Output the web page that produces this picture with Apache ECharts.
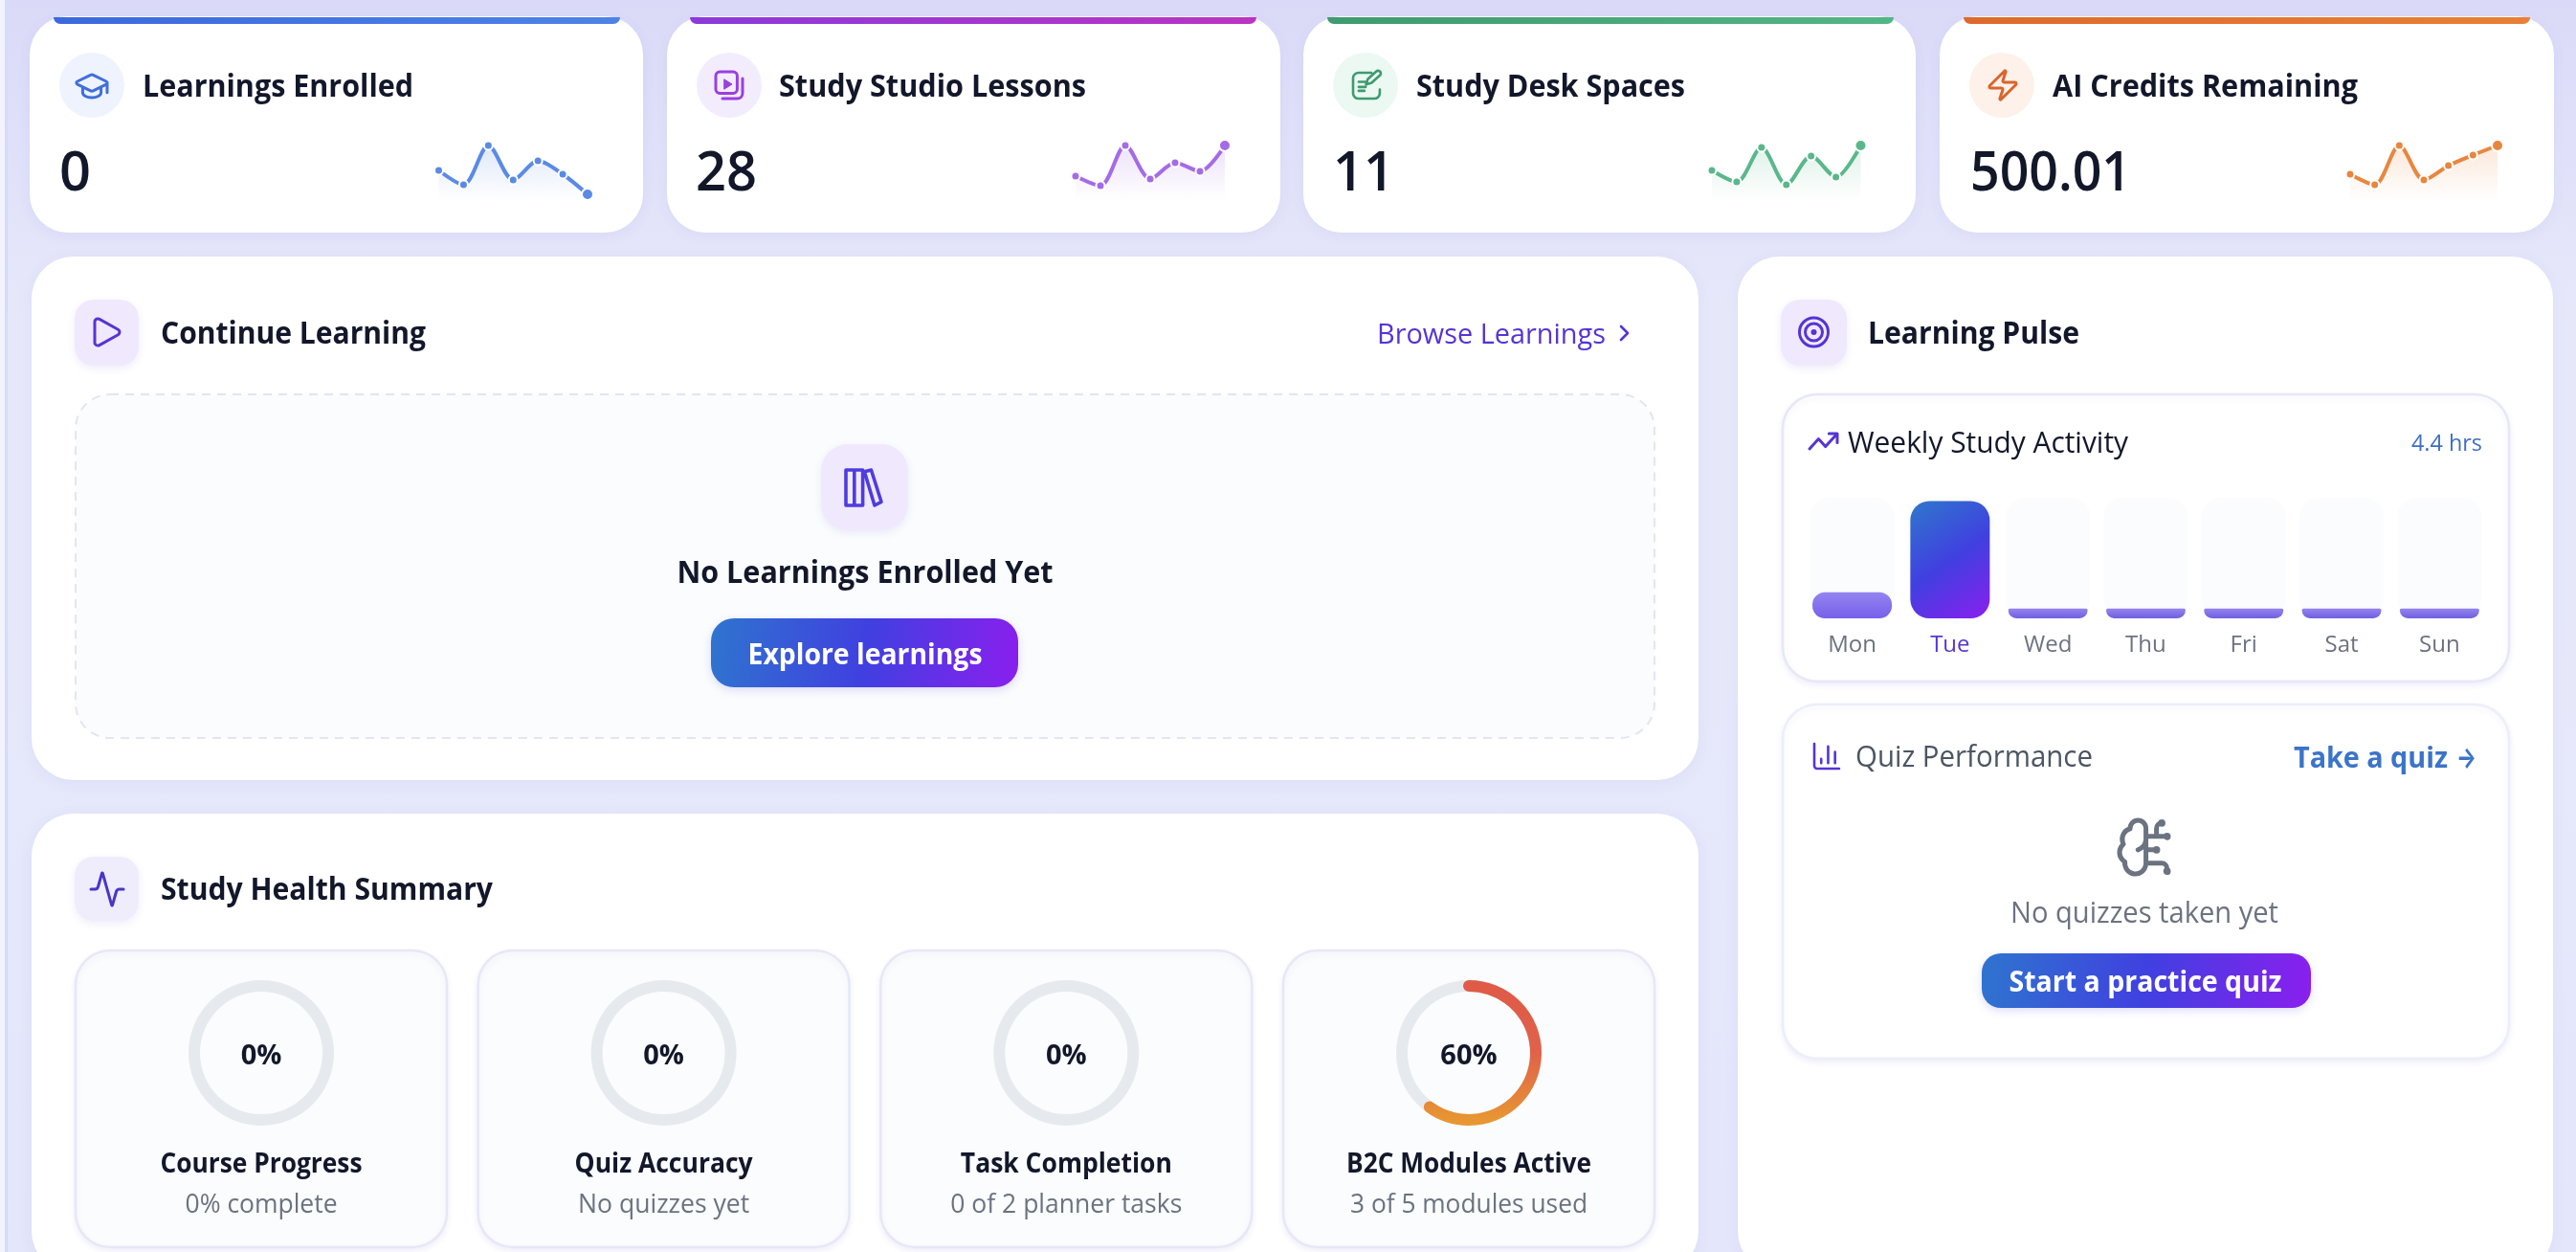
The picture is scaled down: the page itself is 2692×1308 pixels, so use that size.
<!DOCTYPE html>
<html><head><meta charset="utf-8">
<style>html,body{margin:0;padding:0;background:#e6e8fa;overflow:hidden}#c{width:2692px;height:1308px}</style>
<script src="https://cdn.jsdelivr.net/npm/echarts@6/dist/echarts.min.js"></script>
</head><body><div id="c"></div>
<script>
// ---- data ----
const statTitles = ['Learnings Enrolled','Study Studio Lessons','Study Desk Spaces','AI Credits Remaining'];
const statValues = ['0','28','11','500.01'];
const sparkLearnings = [32,17,58,22,42,28,7];
const sparkLessons   = [26,16,58,23,40,31,58];
const sparkDesk      = [32,20,56,17,47,25,58];
const sparkCredits   = [28,17,58,22,37,48,58];
const sparkDays = ['1','2','3','4','5','6','7'];
const weekDays = ['Mon','Tue','Wed','Thu','Fri','Sat','Sun'];
const weekHours = [0.8,3.6,0.3,0.3,0.3,0.3,0.3];
const weekMax = [3.7,3.7,3.7,3.7,3.7,3.7,3.7];
const ringNames = ['Course Progress','Quiz Accuracy','Task Completion','B2C Modules Active'];
const ringValues = [0,0,0,60];
const ringNotes = ['0% complete','No quizzes yet','0 of 2 planner tasks','3 of 5 modules used'];

// ---- style / layout ----
const FONT = '"Open Sans","Noto Sans",sans-serif';
const INK = '#12172a', GREY = '#6b7280', VIOLET = '#5634d4', SOFT = '#fafcfd';
const LG = (a,b,c,d,s)=>new echarts.graphic.LinearGradient(a,b,c,d,s.map((col,i)=>({offset:i/(s.length-1),color:col})));
const BRAND = ()=>LG(0,0.2,1,0.8,['#2f74cf','#4040e0','#8a1fee']);
const G = [], ICONS = [];
const measure = document.createElement('canvas').getContext('2d');
const rect=(x,y,w,h,r,style)=>G.push({type:'rect',shape:{x,y,width:w,height:h,r},style});
// fit: the width the string takes in the reference; the text is squeezed horizontally to it
const text=(x,y,t,size,weight,fill,align,fit,family)=>{
  const font=`${weight} ${size}px ${family||FONT}`; let scaleX=1;
  if(fit){measure.font=font;scaleX=fit/measure.measureText(t).width;}
  G.push({type:'text',x,y:y+3,scaleX,style:{text:t,font,fill,textAlign:align||'left',textVerticalAlign:'middle'}});
};
const icon=(x,y,w,h,d,stroke,lw,fill)=>ICONS.push({type:'path',shape:{pathData:d,x,y,width:w,height:h,layout:'cover'},style:{fill:fill||'none',stroke,lineWidth:lw,lineCap:'round',lineJoin:'round'}});
const circle=(cx,cy,r,style)=>G.push({type:'circle',shape:{cx,cy,r},style});
const panel=(x,y,w,h,r)=>rect(x,y,w,h,r,{fill:'#fff',shadowBlur:16,shadowColor:'rgba(90,80,200,0.07)',shadowOffsetY:3});
const inner=(x,y,w,h,fill,border)=>rect(x,y,w,h,36,{fill,stroke:border||'#e6e8f7',lineWidth:2.5,shadowBlur:6,shadowColor:'rgba(90,80,200,0.08)',shadowOffsetY:3});
const tile=(x,y,w,h,r,fill)=>rect(x,y,w,h,r,{fill:fill||'#f0e9fd',shadowBlur:8,shadowColor:'rgba(90,80,200,0.10)',shadowOffsetY:3});

// left edge band
rect(0,0,5,1308,0,{fill:'#f2f3fc'});
rect(5,0,3,1308,0,{fill:'#d3dcfb'});

// stat cards
const statBoxes = [
 {x:31,w:641,sx:56,sw:592,cx:96,tx:149,nx:62,tw:283,nw:33,grad:['#3c68de','#4f82e8'],tint:'#eef3fe'},
 {x:697,w:641,sx:721,sw:592,cx:762,tx:814,nx:727,tw:321,nw:64,grad:['#8a3adb','#bb33c4'],tint:'#f3ecfd'},
 {x:1362,w:640,sx:1387,sw:592,cx:1427,tx:1480,nx:1393,tw:281,nw:64,grad:['#3f9a6f','#53b687'],tint:'#ebf9f2'},
 {x:2027,w:642,sx:2052,sw:592,cx:2092,tx:2145,nx:2059,tw:319,nw:168,grad:['#dd6a2c','#e97f36'],tint:'#fdf1e9'}];
statBoxes.forEach((b,i)=>{
  rect(b.x,17,b.w,226,40,{fill:'#fff',shadowBlur:14,shadowColor:'rgba(90,80,200,0.07)',shadowOffsetY:3});
  rect(b.sx,18,b.sw,7,[0,0,8,8],{fill:LG(0,0,1,0,b.grad)});
  circle(b.cx,89,34,{fill:b.tint});
  text(b.tx,89.5,statTitles[i],31.5,700,INK,'left',b.tw);
  text(b.nx,179,statValues[i],58,600,INK,'left',b.nw);
});
icon(80,78,32,24,'M21.42 10.922a1 1 0 0 0-.019-1.838L12.83 5.18a2 2 0 0 0-1.66 0L2.6 9.08a1 1 0 0 0 0 1.832l8.57 3.908a2 2 0 0 0 1.66 0z M22 10v6 M6 12.5V16a6 3 0 0 0 12 0v-3.5','#3f6fdc',3);
icon(748,75,28,28,'M5 2h10a3 3 0 0 1 3 3v10a3 3 0 0 1-3 3H5a3 3 0 0 1-3-3V5a3 3 0 0 1 3-3z M22 7v11a4 4 0 0 1-4 4H7','#9a3fe0',3);
icon(757,83,8,10,'M0 0l8 5-8 5z','#9a3fe0',1,'#9a3fe0');
icon(1414,74,29,29,'M15 2H6a4 4 0 0 0-4 4v12a4 4 0 0 0 4 4h11a4 4 0 0 0 4-4v-3 M6 9h6 M6 13h5 M6 16h4 M21.4 3.6a2 2 0 0 0-3-2.6l-6 6-1.2 4 4-1.2z','#3f9a6f',2.6);
icon(2079,74,28,30,'M4 14a1 1 0 0 1-.78-1.63l9.9-10.2a.5.5 0 0 1 .86.46l-1.92 6.02A1 1 0 0 0 13 10h7a1 1 0 0 1 .78 1.63l-9.9 10.2a.5.5 0 0 1-.86-.46l1.92-6.02A1 1 0 0 0 11 14z','#d9652e',3);

// Continue Learning
panel(33,268,1742,547,44);
tile(78,313,67,69,20);
icon(99,333,26,28,'M5 5a2 2 0 0 1 3.008-1.728l11.997 6.998a2 2 0 0 1 .003 3.458l-12 7A2 2 0 0 1 5 19z',VIOLET,3);
text(168,347,'Continue Learning',32,700,INK,'left',277);
text(1439,347,'Browse Learnings',30,400,VIOLET,'left',239);
icon(1694,341,7,14,'M9 18l6-6-6-6',VIOLET,2.6);
rect(79,412,1650,359,36,{fill:SOFT,stroke:'#e3e4f5',lineWidth:2,lineDash:[9,7]});
tile(858,464,91,90,28);
icon(884,491,37,37,'M2 2h5v20H2z M7 2h5v20H7z M13 3l4-1 6 18-4 2z','#4f3ce0',3.6);
text(904,597,'No Learnings Enrolled Yet',32,700,INK,'center',393);
rect(743,646,321,72,24,{fill:BRAND(),shadowBlur:10,shadowColor:'rgba(70,60,220,0.18)',shadowOffsetY:3});
text(904,682,'Explore learnings',31,700,'#fff','center',245);

// Study Health Summary
panel(33,850,1742,480,44);
tile(78,895,67,67,20,'#efedfc');
icon(95,912,34,34,'M22 12h-2.48a2 2 0 0 0-1.93 1.46l-2.35 8.36a.25.25 0 0 1-.48 0L9.24 2.18a.25.25 0 0 0-.48 0l-2.35 8.36A2 2 0 0 1 4.49 12H2','#4a35c8',3);
text(168,928,'Study Health Summary',32,700,INK,'left',347);
const ringX = [273,693.6,1114.3,1535];
const ringNameW = [211,186,221,256], ringNoteW = [159,179,242,248];
ringX.forEach((cx,i)=>{
  inner(cx-194,993,388,310,SOFT);
  text(cx,1214,ringNames[i],28,700,INK,'center',ringNameW[i]);
  text(cx,1256,ringNotes[i],26.5,400,GREY,'center',ringNoteW[i]);
});

// Learning Pulse
panel(1816,268,852,1062,44);
tile(1861,313,69,69,20);
[15,9].forEach(r=>circle(1895.5,347,r,{fill:'none',stroke:VIOLET,lineWidth:3}));
circle(1895.5,347,3,{fill:VIOLET});
text(1952,347,'Learning Pulse',32,700,INK,'left',221);
inner(1863,412,759,300,'#fff');
icon(1891,453,29,16,'M22 7L13.5 15.5 8.5 10.5 2 17 M16 7h6v6',VIOLET,3);
text(1931,461,'Weekly Study Activity',31,500,INK,'left',293);
text(2594,461,'4.4 hrs',24,400,'#3f6fc0','right',74);
inner(1863,736,759,370,'#fff','#eceef9');
icon(1896,777,26,26,'M3 3v16a2 2 0 0 0 2 2h16 M18 17V9 M13 17V5 M8 17v-3',VIOLET,2.6);
text(1939,789,'Quiz Performance',31,400,'#4b5563','left',248);
text(2397,790,'Take a quiz',31,700,'#3b74c8','left',161);
text(2567,790,'→',30,700,'#3b74c8','left',21,'Inter');
icon(2215,857,51,56,'M12 5a3 3 0 1 0-5.997.125 4 4 0 0 0-2.526 5.77 4 4 0 0 0 .556 6.588A4 4 0 1 0 12 18Z M9 13a4.5 4.5 0 0 0 3-4 M12 13h4 M12 18h6a2 2 0 0 1 2 2v1 M12 8h8 M16 8V5a2 2 0 0 1 2-2 M15.5 13a.5.5 0 1 0 1 0a.5.5 0 1 0-1 0 M17.5 3a.5.5 0 1 0 1 0a.5.5 0 1 0-1 0 M19.5 21a.5.5 0 1 0 1 0a.5.5 0 1 0-1 0 M19.5 8a.5.5 0 1 0 1 0a.5.5 0 1 0-1 0',GREY,5);
text(2241,952,'No quizzes taken yet',31,400,GREY,'center',280);
rect(2071,996,344,57,20,{fill:BRAND(),shadowBlur:10,shadowColor:'rgba(70,60,220,0.18)',shadowOffsetY:3});
text(2242,1024,'Start a practice quiz',30,700,'#fff','center',285);

// ---- series ----
const grids=[],xAxes=[],yAxes=[],series=[];
const sparks=[
 {data:sparkLearnings,c:'#5b8ae6',rgb:'91,138,230',left:458.5,width:155.5},
 {data:sparkLessons,c:'#a46be6',rgb:'164,107,230',left:1124,width:156},
 {data:sparkDesk,c:'#5ab78c',rgb:'90,183,140',left:1789,width:155.5},
 {data:sparkCredits,c:'#e8863f',rgb:'232,134,63',left:2456,width:154}];
sparks.forEach((s,i)=>{
  grids.push({left:s.left,top:140,width:s.width,height:70});
  xAxes.push({gridIndex:i,type:'category',data:sparkDays,boundaryGap:false,show:false});
  yAxes.push({gridIndex:i,type:'value',min:0,max:70,show:false});
  series.push({type:'line',xAxisIndex:i,yAxisIndex:i,data:s.data,smooth:0.3,silent:true,animation:false,clip:false,
    lineStyle:{color:s.c,width:4},showSymbol:true,showAllSymbol:true,symbol:'circle',
    symbolSize:(v,p)=>p.dataIndex===6?12:9,
    itemStyle:{color:s.c,borderColor:'#fff',borderWidth:2},
    areaStyle:{color:LG(0,0,0,1,[`rgba(${s.rgb},0.28)`,`rgba(${s.rgb},0)`])}});
});
// weekly bars
const wg=grids.length;
grids.push({left:1884.4,top:520,width:716.1,height:126});
xAxes.push({gridIndex:wg,type:'category',data:weekDays,axisLine:{show:false},axisTick:{show:false},
  axisLabel:{margin:16,fontFamily:FONT,fontSize:24,color:p=>p==='Tue'?VIOLET:GREY,fontWeight:400}});
xAxes.push({gridIndex:wg,type:'category',data:weekDays,show:false});
yAxes.push({gridIndex:wg,type:'value',min:0,max:3.7,show:false});
series.push({type:'bar',xAxisIndex:wg+1,yAxisIndex:wg,data:weekMax,barWidth:88,silent:true,animation:false,z:2,
  itemStyle:{color:'#fbfcfd',borderRadius:20}});
series.push({type:'bar',xAxisIndex:wg,yAxisIndex:wg,barWidth:83,silent:true,animation:false,z:3,
  data:weekHours.map((v,i)=>({value:v,itemStyle:
    i===1?{color:LG(0,0,1,1,['#2f78cc','#4040e0','#8a1fee']),borderRadius:20}
    :i===0?{color:LG(0,0,0,1,['#9484f0','#7760ea']),borderRadius:13}
    :{color:LG(0,0,0,1,['#9584ee','#6f5fe0']),borderRadius:[2,2,10,10]}}))});
// rings
ringX.forEach((cx,i)=>{
  const v=ringValues[i];
  series.push({type:'gauge',center:[cx,1100],radius:76,startAngle:90,endAngle:-270,min:0,max:100,silent:true,animation:false,
    axisLine:{lineStyle:{width:12,color:[[1,'#e6eaef']]}},
    progress:{show:v>0,roundCap:true,width:12},
    pointer:{show:false},axisTick:{show:false},splitLine:{show:false},axisLabel:{show:false},
    title:{show:false},
    detail:{valueAnimation:false,formatter:'{value}%',offsetCenter:[0,4],fontFamily:FONT,fontSize:29,fontWeight:700,color:INK},
    data:[{value:v,name:ringNames[i],itemStyle:{color:LG(0,0,0,1,['#df5a47','#e0624a','#e89a30'])}}]});
});
// line icons, drawn by the library's custom series
series.push({type:'custom',coordinateSystem:'none',silent:true,animation:false,z:4,data:[0],
  renderItem:()=>({type:'group',children:ICONS})});

const chart=echarts.init(document.getElementById('c'),null,{renderer:'canvas',width:2692,height:1308});
chart.setOption({animation:false,
  backgroundColor:LG(0,0,0,1,['#dadaf8','#e6e8fa','#e6e8fa','#e5e7fb','#e4e6fb']),
  graphic:{elements:G},grid:grids,xAxis:xAxes,yAxis:yAxes,series});
</script></body></html>
